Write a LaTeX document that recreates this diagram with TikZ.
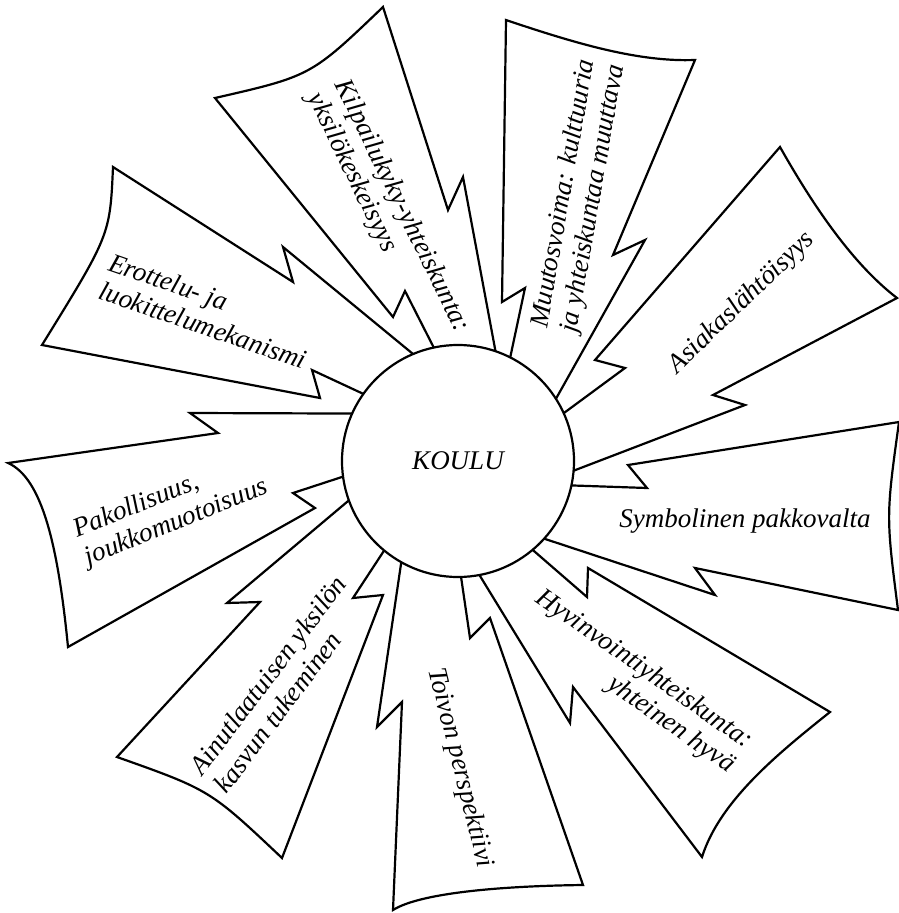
\documentclass[tikz,border=0pt]{standalone}
\usepackage{fontspec}
\setmainfont{Liberation Serif}
\usetikzlibrary{calc}
\begin{document}
\begin{tikzpicture}[x=1pt,y=-1pt,line width=2.2pt,line join=miter,
  ray/.style={draw=black,fill=white},
  lbl/.style={font=\itshape\fontsize{27}{30}\selectfont,inner sep=0pt,align=left}]
\useasboundingbox (0,0) rectangle (899,913);
\coordinate (c) at (458,461);
% 1 Erottelu
\path[ray] (42,345) .. controls (110,235) .. (113,167) -- (293,282) -- (283,247)
  -- ($(c)!0.93!(417,352)$) -- ($(c)!0.93!(363,392)$) -- (312,370) -- (320,398) -- cycle;
% 2 Kilpailukyky
\path[ray] (215,98) .. controls (311,76) .. (383,7) -- (448,210) -- (463,177)
  -- ($(c)!0.93!(500,352)$) -- ($(c)!0.93!(435,345)$) -- (405,291) -- (393,317) -- cycle;
% 3 Muutosvoima
\path[ray] (506,20) .. controls (580,45) and (640,62) .. (695,60) -- (613,255) -- (645,240)
  -- ($(c)!0.93!(560,400)$) -- ($(c)!0.93!(513,355)$) -- (525,288) -- (502,302) -- cycle;
% 4 Asiakas
\path[ray] (780,147) .. controls (810,200) and (850,262) .. (897,298) -- (713,395) -- (745,405)
  -- ($(c)!0.93!(573,475)$) -- ($(c)!0.93!(567,413)$) -- (625,368) -- (595,360) -- cycle;
% 5 Symbolinen
\path[ray] (898,610) .. controls (886,516) .. (899,422) -- (628,465) -- (647,488)
  -- ($(c)!0.93!(572,487)$) -- ($(c)!0.93!(543,542)$) -- (715,595) -- (695,568) -- cycle;
% 6 Hyvinvointi
\path[ray] (830,712) .. controls (780,752) and (720,800) .. (702,857) -- (573,687) -- (570,723)
  -- ($(c)!0.93!(477,577)$) -- ($(c)!0.93!(533,552)$) -- (587,597) -- (588,568) -- cycle;
% 7 Toivon
\path[ray] (583,885) .. controls (500,886) and (420,893) .. (393,910) -- (402,702) -- (377,727)
  -- ($(c)!0.93!(398,563)$) -- ($(c)!0.93!(460,577)$) -- (470,638) -- (490,618) -- cycle;
% 8 Ainutlaatuisen
\path[ray] (117,757) .. controls (210,790) .. (282,858) -- (383,595) -- (353,598)
  -- ($(c)!0.93!(382,552)$) -- ($(c)!0.93!(347,498)$) -- (227,603) -- (260,602) -- cycle;
% 9 Pakollisuus
\path[ray] (8,463) .. controls (42,478) and (58,545) .. (68,647) -- (315,508) -- (293,493)
  -- ($(c)!0.93!(343,475)$) -- ($(c)!0.93!(352,410)$) -- (190,413) -- (218,433) -- cycle;
% centre
\node[draw,fill=white,circle,minimum size=232pt,inner sep=0pt,lbl,align=center] (koulu) at (c) {KOULU};
% labels
\node[lbl,rotate=-19] (t1) at (208,311) {Erottelu- ja\\luokittelumekanismi};
\node[lbl,rotate=-64] (t2) at (388,213) {Kilpailukyky-yhteiskunta:\\yksilökeskeisyys};
\node[lbl,rotate=80,align=center] (t3) at (579,196) {Muutosvoima: kulttuuria\\ja yhteiskuntaa muuttava};
\node[lbl,rotate=44] (t4) at (742,303) {Asiakaslähtöisyys};
\node[lbl] (t5) at (745,521) {Symbolinen pakkovalta};
\node[lbl,rotate=-35,align=right] (t6) at (635,682) {Hyvinvointiyhteiskunta:\\yhteinen hyvä};
\node[lbl,rotate=-76] (t7) at (460,768) {Toivon perspektiivi};
\node[lbl,rotate=53] (t8) at (280,684) {Ainutlaatuisen yksilön\\kasvun tukeminen};
\node[lbl,rotate=22] (t9) at (171,509) {Pakollisuus,\\joukkomuotoisuus};
\end{tikzpicture}
\end{document}
